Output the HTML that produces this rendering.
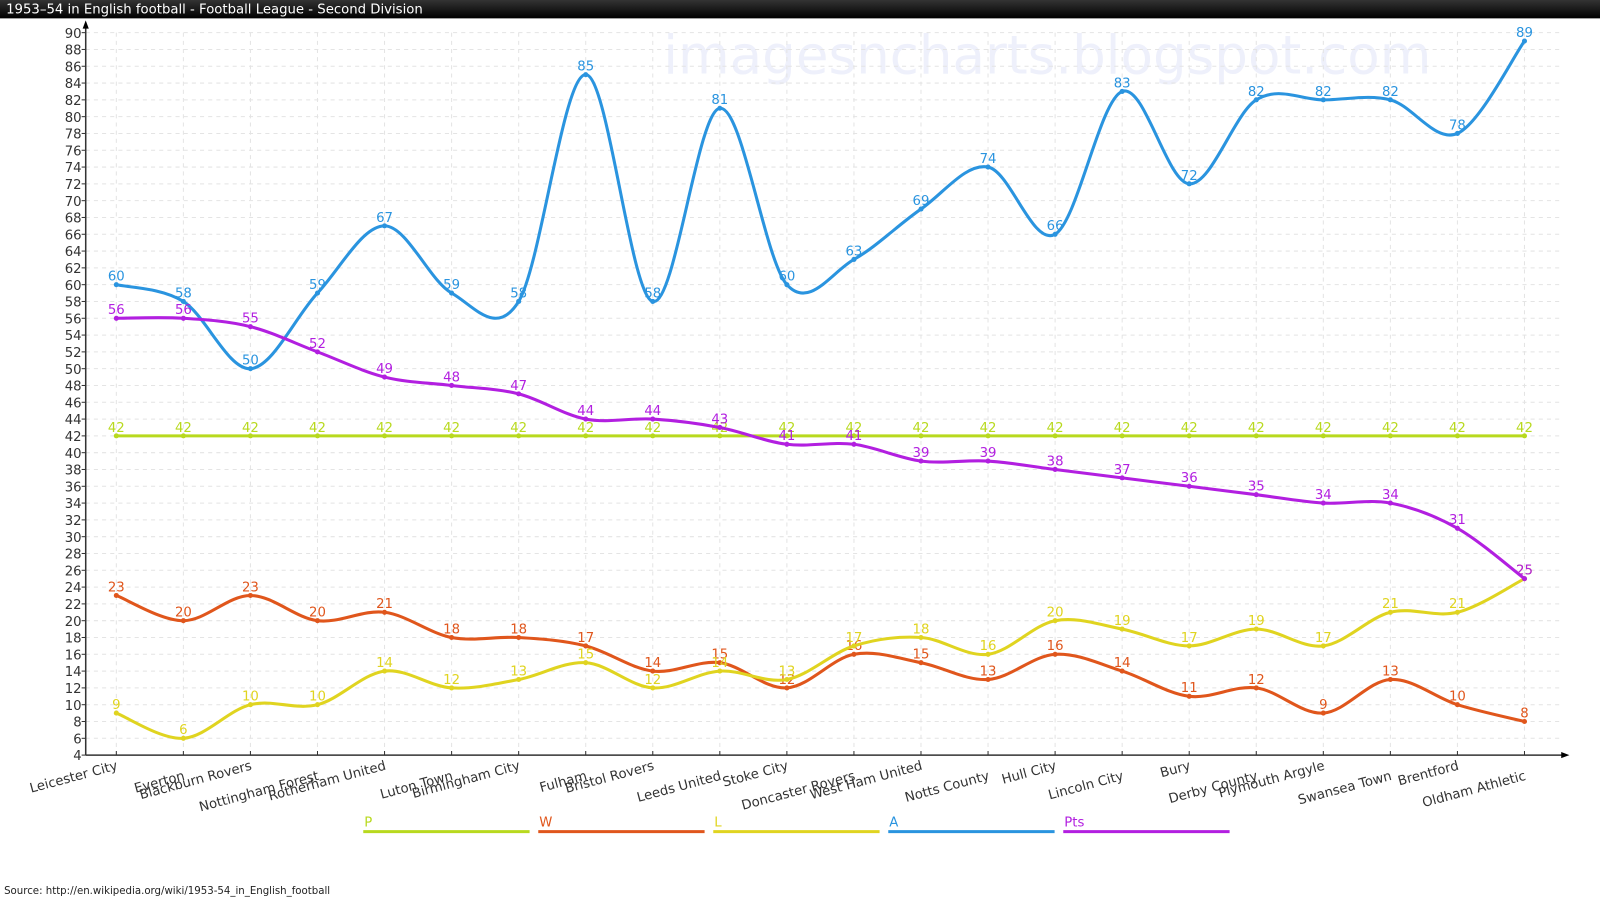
<!DOCTYPE html>
<html><head><meta charset="utf-8"><style>
body{margin:0;background:#fff;font-family:"DejaVu Sans","Liberation Sans",sans-serif}
svg{display:block}
</style></head><body>
<svg id="chart" width="1600" height="900" viewBox="0 0 1568 882" xmlns="http://www.w3.org/2000/svg">
<defs><linearGradient id="tb" x1="0" y1="0" x2="0" y2="1"><stop offset="0" stop-color="#333"/><stop offset="1" stop-color="#000"/></linearGradient></defs>
<rect x="0" y="0" width="1568" height="18" fill="url(#tb)"/>
<text x="6" y="13" fill="#fff" font-size="13">1953–54 in English football - Football League - Second Division</text>
<text x="650" y="72" fill="#eef0fb" font-size="52">imagesncharts.blogspot.com</text>
<g id="grid"></g><g id="axes"></g><g id="series"></g><g id="legend"></g>
<text x="4" y="876" fill="#222" font-size="10">Source:  http://en.wikipedia.org/wiki/1953-54_in_English_football</text>
</svg>
<script>
const categories=["Leicester City","Everton","Blackburn Rovers","Nottingham Forest","Rotherham United","Luton Town","Birmingham City","Fulham","Bristol Rovers","Leeds United","Stoke City","Doncaster Rovers","West Ham United","Notts County","Hull City","Lincoln City","Bury","Derby County","Plymouth Argyle","Swansea Town","Brentford","Oldham Athletic"];
const seriesNames=["P","W","L","A","Pts"];
const valuesP=[42,42,42,42,42,42,42,42,42,42,42,42,42,42,42,42,42,42,42,42,42,42];
const valuesW=[23,20,23,20,21,18,18,17,14,15,12,16,15,13,16,14,11,12,9,13,10,8];
const valuesL=[9,6,10,10,14,12,13,15,12,14,13,17,18,16,20,19,17,19,17,21,21,25];
const valuesA=[60,58,50,59,67,59,58,85,58,81,60,63,69,74,66,83,72,82,82,82,78,89];
const valuesPts=[56,56,55,52,49,48,47,44,44,43,41,41,39,39,38,37,36,35,34,34,31,25];
const yTicks=[4,6,8,10,12,14,16,18,20,22,24,26,28,30,32,34,36,38,40,42,44,46,48,50,52,54,56,58,60,62,64,66,68,70,72,74,76,78,80,82,84,86,88,90];
const NS="http://www.w3.org/2000/svg";
const yMin=4,yMax=90,y0=740,y1=32,x0=114,x1=1494,axX=84;
const xs=i=>x0+(x1-x0)*i/(categories.length-1);
const ys=v=>y0-(v-yMin)*(y0-y1)/(yMax-yMin);
function mk(tag,attrs,parent,txt){const e=document.createElementNS(NS,tag);for(const k in attrs)e.setAttribute(k,attrs[k]);if(txt!==undefined)e.textContent=txt;parent.appendChild(e);return e;}
const grid=document.getElementById('grid'),axes=document.getElementById('axes'),ser=document.getElementById('series'),leg=document.getElementById('legend');
yTicks.forEach(t=>{const y=ys(t);
 const g=mk('line',{x1:axX,x2:1530,y1:y,y2:y,stroke:'#e4e4e4','stroke-dasharray':'4,4'},grid);
 
 mk('line',{x1:axX-4,x2:axX,y1:y,y2:y,stroke:'#333'},axes);
 const l=mk('text',{x:axX-4,y:y+5,'text-anchor':'end','font-size':13,fill:'#333'},axes,t);
 });
categories.forEach((c,i)=>{const x=xs(i);
 const g=mk('line',{x1:x,x2:x,y1:y1,y2:y0,stroke:'#e4e4e4','stroke-dasharray':'4,4'},grid);
 
 mk('line',{x1:x,x2:x,y1:y0,y2:y0-4,stroke:'#333'},axes);
 const dy=i%2?16:6;
 const l=mk('text',{x:x+2,y:y0+dy+8,'text-anchor':'end','font-size':13,fill:'#333',transform:`rotate(-15 ${x+2} ${y0+dy+8})`},axes,c);
 });
const ya=mk('line',{x1:axX,x2:axX,y1:y0,y2:22,stroke:'#333','stroke-width':1.5},axes);

mk('path',{d:`M${axX-3},28 L${axX},20 L${axX+3},28 Z`,fill:'#000'},axes);
const xa=mk('line',{x1:axX,x2:1535,y1:y0,y2:y0,stroke:'#333','stroke-width':1.5},axes);

mk('path',{d:`M1530,${y0-3} L1538,${y0} L1530,${y0+3} Z`,fill:'#000'},axes);
const colors={P:'#b8d91e',W:'#e0561c',L:'#e0d420',A:'#2a94df',Pts:'#b21fe0'};
const data={P:valuesP,W:valuesW,L:valuesL,A:valuesA,Pts:valuesPts};
function curve(pts){let d=`M${pts[0][0]},${pts[0][1]}`;for(let i=0;i<pts.length-1;i++){const p0=pts[i-1]||pts[i],p1=pts[i],p2=pts[i+1],p3=pts[i+2]||p2;
 d+=` C${p1[0]+(p2[0]-p0[0])/6},${p1[1]+(p2[1]-p0[1])/6} ${p2[0]-(p3[0]-p1[0])/6},${p2[1]-(p3[1]-p1[1])/6} ${p2[0]},${p2[1]}`;}return d;}
seriesNames.forEach(n=>{const v=data[n],col=colors[n];const pts=v.map((d,i)=>[xs(i),ys(d)]);
 const g=mk('g',{},ser);
 const p=mk('path',{d:curve(pts),fill:'none',stroke:col,'stroke-width':3},g);
 
 pts.forEach((q,i)=>{const c=mk('circle',{cx:q[0],cy:q[1],r:2.5,fill:col},g);
  
  const t=mk('text',{x:q[0],y:q[1]-4,'text-anchor':'middle','font-size':13,fill:col},g,v[i]);
  });});
seriesNames.forEach((n,i)=>{const lx=356+i*171.5;
 const g=mk('g',{},leg);
 mk('line',{x1:lx,x2:lx+163,y1:815,y2:815,stroke:colors[n],'stroke-width':3},g);
 mk('text',{x:lx+1,y:810,'font-size':13,fill:colors[n]},g,n);});
</script>
</body></html>
